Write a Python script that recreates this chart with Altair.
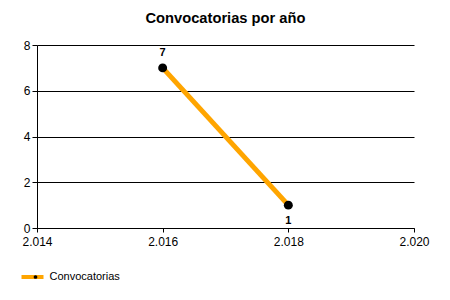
import altair as alt
import pandas as pd

anios = [2016, 2018]
convocatorias = [7, 1]
serie = ["Convocatorias", "Convocatorias"]
x_ticks = [2014, 2016, 2018, 2020]
y_ticks = [0, 2, 4, 6, 8]

df = pd.DataFrame({"anio": anios, "valor": convocatorias, "serie": serie})

FONT = "Liberation Sans"

base = alt.Chart(df).encode(
    x=alt.X("anio:Q",
            scale=alt.Scale(domain=[2014, 2020], nice=False, zero=False),
            axis=alt.Axis(values=x_ticks, title=None, grid=False, labelFlush=False,
                          labelExpr="replace(format(datum.value, ','), ',', '.')",
                          tickSize=4, labelPadding=4)),
    y=alt.Y("valor:Q",
            scale=alt.Scale(domain=[0, 8], nice=False),
            axis=alt.Axis(values=y_ticks, title=None, grid=True, labelFlush=False,
                          tickSize=5, labelPadding=2)),
)

line = base.mark_line(strokeWidth=5).encode(
    color=alt.Color("serie:N",
                    scale=alt.Scale(range=["#FFA500"]),
                    legend=alt.Legend(title=None, orient="none", legendX=-17.5, legendY=219,
                                      symbolType="stroke", symbolSize=484,
                                      symbolStrokeWidth=4, padding=0,
                                      labelFont=FONT, labelFontSize=11,
                                      labelColor="black"))
)

points = base.transform_calculate(serie_p="datum.serie").mark_point(
    filled=True, size=80, opacity=1, shape="circle"
).encode(
    fill=alt.Fill("serie_p:N",
                  scale=alt.Scale(range=["black"]),
                  legend=alt.Legend(title=None, orient="none", legendX=-7, legendY=226.5,
                                    symbolType="circle", symbolSize=14,
                                    symbolStrokeWidth=0, padding=0,
                                    labelExpr="''", labelFontSize=11))
)

labels_above = base.transform_filter("datum.valor >= 4").mark_text(
    font=FONT, fontSize=11, fontWeight="bold", color="black", dy=-15
).encode(text=alt.Text("valor:Q"))

labels_below = base.transform_filter("datum.valor < 4").mark_text(
    font=FONT, fontSize=11, fontWeight="bold", color="black", dy=16
).encode(text=alt.Text("valor:Q"))

chart = alt.layer(line, points, labels_above, labels_below).properties(
    width=377, height=183,
    padding={"left": 37, "top": 45, "right": 36, "bottom": 72},
    autosize=alt.AutoSizeParams(type="none"),
    title=alt.TitleParams("Convocatorias por año", font=FONT, fontSize=14.7,
                          fontWeight="bold", color="black", offset=13),
).configure_view(stroke=None).configure_axis(
    labelFont=FONT, labelFontSize=12, labelColor="black",
    gridColor="black", gridOpacity=1, gridWidth=1,
    domainColor="black", tickColor="black", domainWidth=1,
)

chart.save("out.html", embed_options={"renderer": "svg", "actions": False})
